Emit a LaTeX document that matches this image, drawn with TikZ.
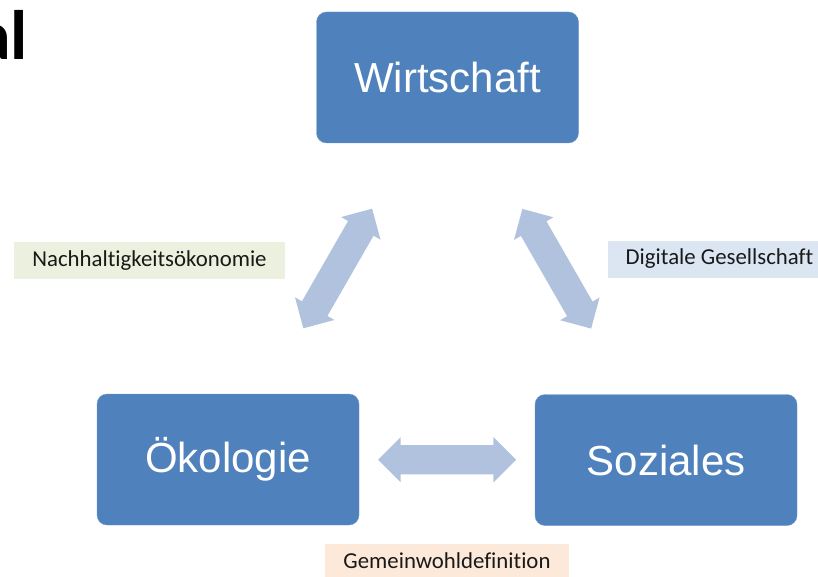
\documentclass[tikz,border=0pt]{standalone}
\usepackage{fontspec}
\setmainfont{Carlito}[Ligatures=NoCommon]
\newfontfamily\arialfont{Liberation Sans}
\usetikzlibrary{shapes.arrows,calc}
\definecolor{boxblue}{HTML}{4F81BD}
\definecolor{arrowblue}{HTML}{B0C2DE}
\definecolor{tagGreen}{HTML}{EBF1DE}
\definecolor{tagBlue}{HTML}{DCE6F2}
\definecolor{tagOrange}{HTML}{FDE9D9}
\tikzset{
  pillar/.style={rectangle, rounded corners=10pt, fill=boxblue, draw=boxblue!80!white,
    minimum width=262pt, minimum height=131pt, text=white,
    font=\arialfont\fontsize{42}{50}\selectfont},
  link/.style={double arrow, fill=arrowblue, inner sep=14.5pt,
    double arrow head extend=8pt, minimum height=138pt},
  tag/.style={rectangle, inner xsep=18pt, minimum height=37pt, text height=16pt,
    text depth=5pt, text=black!90, font=\fontsize{22.8}{27}\selectfont}
}
\begin{document}
\begin{tikzpicture}[x=1pt,y=-1pt]
\useasboundingbox (0,0) rectangle (818,577);
\node[anchor=base east, inner sep=0pt, font=\bfseries\fontsize{70}{80}\selectfont] (ttl) at (28,60) {al};
% die drei Saeulen
\node[pillar] (wirt) at (447.5,77.5) {Wirtschaft};
\node[pillar] (oeko) at (228,459.5) {Ökologie};
\node[pillar] (soz) at (666,460) {Soziales};
% Doppelpfeile
\node[link, rotate=60.1] (aWO) at ($(wirt)!0.5!(oeko)$) {};
\node[link, rotate=119.9] (aWS) at ($(wirt)!0.5!(soz)$) {};
\node[link] (aOS) at ($(oeko)!0.5!(soz)$) {};
% Beschriftungen
\node[tag, fill=tagGreen] (nach) at (149.5,260.5) {Nachhaltigkeitsökonomie};
\node[tag, fill=tagBlue] (digi) at (719.5,259) {Digitale Gesellschaft};
\node[tag, fill=tagOrange] (gemw) at (447,562.5) {Gemeinwohldefinition};
\end{tikzpicture}
\end{document}
